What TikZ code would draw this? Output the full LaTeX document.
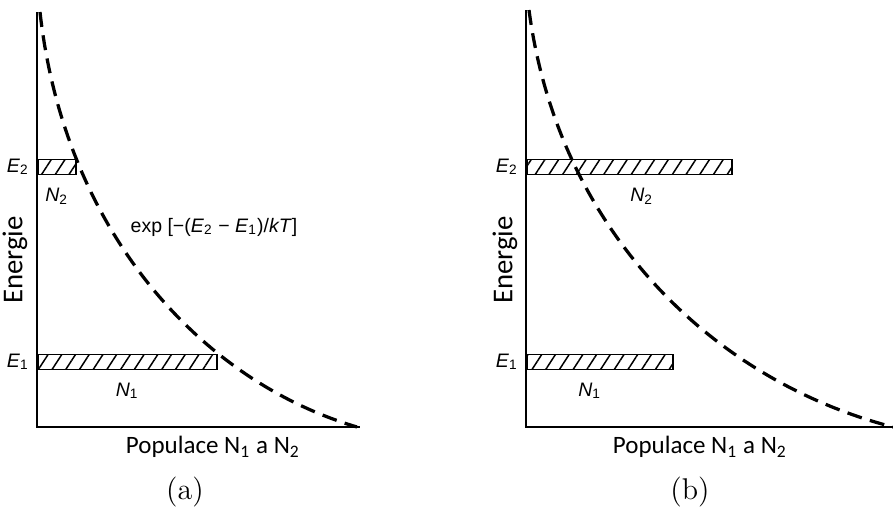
\documentclass[tikz,border=0pt]{standalone}
\usepackage{fontspec}
\setsansfont{Liberation Sans}
\newfontfamily\axisfont{Carlito}
\usetikzlibrary{positioning,patterns.meta}

\begin{document}
\begin{tikzpicture}[
  x=0.4pt, y=-0.4pt,
  axis/.style={line width=0.8pt},
  boltz/.style={line width=1.3pt, dash pattern=on 6pt off 3.4pt},
  bar/.style={draw, rectangle, line width=0.6pt, inner sep=0pt, anchor=south west,
    minimum height=6pt, pattern={Lines[angle=57,distance=4.6pt,line width=0.6pt]}},
  lvl/.style={font=\sffamily\fontsize{7.8}{8}\selectfont, inner sep=1pt},
  ax/.style={font=\axisfont\fontsize{10}{11}\selectfont, inner sep=1pt},
  panel/.style={font=\fontsize{12}{14}\selectfont, inner sep=1pt}
]
\useasboundingbox (0,0) rectangle (893,513);

% (a) thermal equilibrium
\coordinate (oA) at (37,427);
\draw[axis] (37,12) -- (oA) -- (360,427);
\node[bar, minimum width=15.2pt] (barA2) at (37,175) {};
\node[bar, minimum width=71.6pt] (barA1) at (37,370) {};
\draw[boltz] (40,12) .. controls (64,228) and (198,380) .. (357,427);

\node[lvl, left=2pt of barA2.west] (EA2) {\textit{E}\textsubscript{2}};
\node[lvl, left=2pt of barA1.west] (EA1) {\textit{E}\textsubscript{1}};
\node[lvl, below=4pt of barA2] (NA2) {\textit{N}\textsubscript{2}};
\node[lvl, below=4pt of barA1] (NA1) {\textit{N}\textsubscript{1}};
\node[lvl] (boltzA) at (214,227) {exp [−(\textit{E}\textsubscript{2} − \textit{E}\textsubscript{1})/\textit{kT}]};
\node[ax, font=\axisfont\fontsize{11.5}{12}\selectfont, rotate=90] (enA) at (15,260) {Energie};
\node[ax] (popA) at (213,447) {Populace N\textsubscript{1} a N\textsubscript{2}};
\node[panel] (capA) at (185,492) {(a)};

% (b) population inversion
\coordinate (oB) at (526,427);
\draw[axis] (526,10) -- (oB) -- (893,427);
\node[bar, minimum width=82pt] (barB2) at (526,175) {};
\node[bar, minimum width=58.4pt] (barB1) at (526,370) {};
\draw[boltz] (529,10) .. controls (558,229) and (711,380) .. (893,427);

\node[lvl, left=2pt of barB2.west] (EB2) {\textit{E}\textsubscript{2}};
\node[lvl, left=2pt of barB1.west] (EB1) {\textit{E}\textsubscript{1}};
\node[lvl, below=4pt of barB2, xshift=5pt] (NB2) {\textit{N}\textsubscript{2}};
\node[lvl, below=4pt of barB1, xshift=-4pt] (NB1) {\textit{N}\textsubscript{1}};
\node[ax, font=\axisfont\fontsize{11.5}{12}\selectfont, rotate=90] (enB) at (505,260) {Energie};
\node[ax] (popB) at (700,447) {Populace N\textsubscript{1} a N\textsubscript{2}};
\node[panel] (capB) at (690,492) {(b)};
\end{tikzpicture}
\end{document}
